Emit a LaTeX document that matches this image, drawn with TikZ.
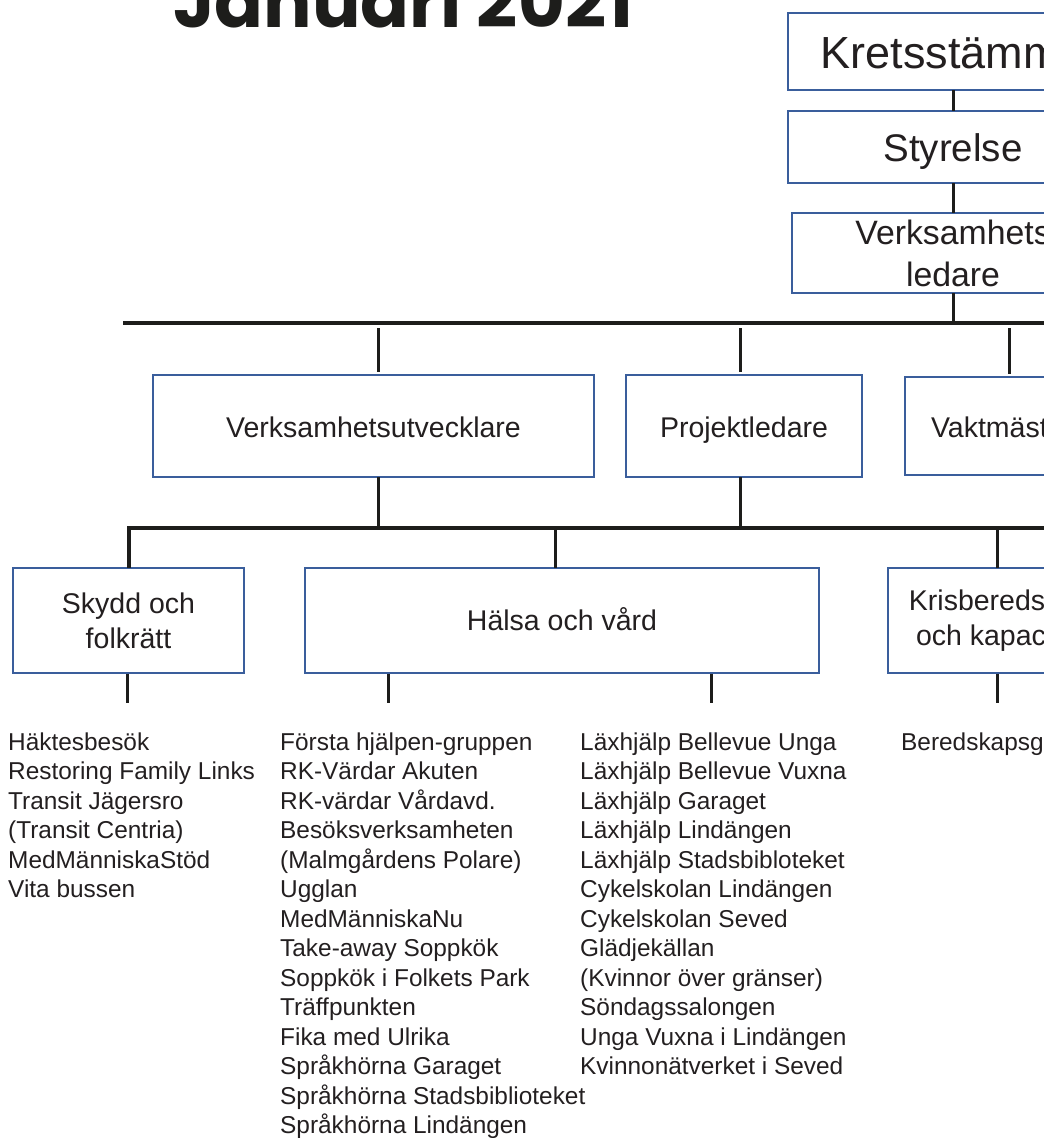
\documentclass[tikz,border=0pt]{standalone}
\usepackage{fontspec}
\setmainfont{Liberation Sans}
\newfontfamily\titlefont{Poppins}
\definecolor{txt}{HTML}{231F20}
\definecolor{boxblue}{HTML}{3A5E9C}
\definecolor{ln}{HTML}{1D1D1B}
\begin{document}
\begin{tikzpicture}[x=1pt,y=-1pt,
  box/.style={draw=boxblue, line width=2.5pt, fill=white, inner sep=0pt, outer sep=0pt, text=txt, align=center},
  midfont/.style={font=\fontsize{28.5}{35}\selectfont},
  conn/.style={draw=ln, line width=3pt},
  bus/.style={draw=ln, line width=4pt, line join=miter},
  listtxt/.style={anchor=north west, inner sep=0pt, align=left, text=txt, font=\fontsize{24.4}{29.5}\selectfont}]
\useasboundingbox (0,0) rectangle (1044,1138);
\clip (0,0) rectangle (1044,1138);

% title
\node[anchor=base west, inner sep=0pt, text=ln, font=\titlefont\bfseries\fontsize{72}{76}\selectfont] (title) at (173,27) {Januari 2021};

% top column
\node[box, minimum width=330pt, minimum height=77pt, text height=33pt, text depth=0pt, font=\fontsize{45}{54}\selectfont] (kret) at (953,51.5) {Kretsstämma};
\node[box, minimum width=330pt, minimum height=72pt, text height=28pt, text depth=0pt, font=\fontsize{38.5}{46}\selectfont] (styr) at (953,147) {Styrelse};
\node[box, minimum width=322pt, minimum height=80pt, font=\fontsize{33.8}{42}\selectfont] (vl) at (953,253) {Verksamhets\\ledare};

% second level
\node[box, midfont, minimum width=441pt, minimum height=102pt, text height=22pt, text depth=0pt] (vu) at (373.5,426) {Verksamhetsutvecklare};
\node[box, midfont, minimum width=236pt, minimum height=102pt, text height=22pt, text depth=0pt] (pl) at (744,426) {Projektledare};
\node[box, midfont, minimum width=210pt, minimum height=98pt, text height=22pt, text depth=0pt] (vm) at (1010,426) {Vaktmästare};

% third level
\node[box, midfont, minimum width=231pt, minimum height=105pt] (sk) at (128.5,620.5) {Skydd och\\folkrätt};
\node[box, midfont, minimum width=514pt, minimum height=105pt, text height=19pt, text depth=0pt] (hv) at (562,620.5) {Hälsa och vård};
\node[box, midfont, minimum width=224pt, minimum height=105pt] (kr) at (1000,620.5) {Krisberedskap\\och kapacitet};

% bus coordinates
\coordinate (b1L) at (123,323);
\coordinate (b1R) at (1050,323);
\coordinate (b2R) at (1050,528);
\coordinate (xvu) at (378.5,0);
\coordinate (xpl) at (740,0);
\coordinate (xvm) at (1009,0);
\coordinate (xhv) at (555,0);
\coordinate (xkr) at (997,0);
\coordinate (sA) at (127,703);
\coordinate (sB) at (388,703);
\coordinate (sC) at (711,703);
\coordinate (sD) at (997,703);

% connectors top
\draw[conn] (kret.south) -- (styr.north);
\draw[conn] (styr.south) -- (vl.north);
\draw[bus] (b1L) -- (b1R);
\draw[conn] (vl.south) -- (vl.south |- b1L);
\draw[conn, shorten <=5pt, shorten >=3pt] (xvu |- b1L) -- (xvu |- vu.north);
\draw[conn, shorten <=5pt, shorten >=3pt] (xpl |- b1L) -- (xpl |- pl.north);
\draw[conn, shorten <=5pt, shorten >=3pt] (xvm |- b1L) -- (xvm |- vm.north);

% second bus
\draw[bus] (b2R) -- (sk.north |- b2R) -- (sk.north);
\draw[conn] (xvu |- vu.south) -- (xvu |- b2R);
\draw[conn] (xpl |- pl.south) -- (xpl |- b2R);
\draw[conn] (xhv |- b2R) -- (xhv |- hv.north);
\draw[conn] (xkr |- b2R) -- (xkr |- kr.north);

% stubs
\draw[conn, shorten <=1pt] (sA |- sk.south) -- (sA);
\draw[conn, shorten <=1pt] (sB |- hv.south) -- (sB);
\draw[conn, shorten <=1pt] (sC |- hv.south) -- (sC);
\draw[conn, shorten <=1pt] (sD |- kr.south) -- (sD);

% lists
\node[listtxt] (l1) at (8,732.5) {Häktesbesök\\Restoring Family Links\\Transit Jägersro\\(Transit Centria)\\MedMänniskaStöd\\Vita bussen};
\node[listtxt] (l2) at (280,732.5) {Första hjälpen-gruppen\\RK-Värdar Akuten\\RK-värdar Vårdavd.\\Besöksverksamheten\\(Malmgårdens Polare)\\Ugglan\\MedMänniskaNu\\Take-away Soppkök\\Soppkök i Folkets Park\\Träffpunkten\\Fika med Ulrika\\Språkhörna Garaget\\Språkhörna Stadsbiblioteket\\Språkhörna Lindängen};
\node[listtxt] (l3) at (580,732.5) {Läxhjälp Bellevue Unga\\Läxhjälp Bellevue Vuxna\\Läxhjälp Garaget\\Läxhjälp Lindängen\\Läxhjälp Stadsbibloteket\\Cykelskolan Lindängen\\Cykelskolan Seved\\Glädjekällan\\(Kvinnor över gränser)\\Söndagssalongen\\Unga Vuxna i Lindängen\\Kvinnonätverket i Seved};
\node[listtxt] (l4) at (901,732.5) {Beredskapsgruppen};
\end{tikzpicture}
\end{document}
